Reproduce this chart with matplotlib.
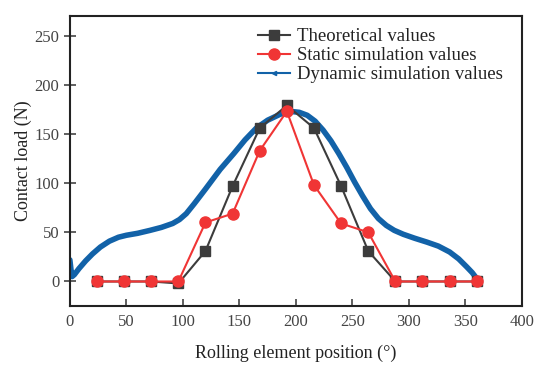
import matplotlib
matplotlib.use("Agg")
import matplotlib.pyplot as plt
from matplotlib.lines import Line2D

plt.rcParams['font.family'] = ['Liberation Serif', 'DejaVu Serif']

positions = [24, 48, 72, 96, 120, 144, 168, 192, 216, 240, 264, 288, 312, 336, 360]
theoretical = [0, 0, 0, -2, 31, 97, 156, 179, 156, 97, 31, 0, 0, 0, 0]
static_sim = [0, 0, 0, 0, 60, 69, 133, 173, 98, 59, 50, 0, 0, 0, 0]

dyn_x = [0, 1, 2, 4, 8, 14, 20, 27, 35, 43, 50, 60, 71, 81, 91, 97, 103, 110, 120,
         133, 145, 155, 165, 175, 186, 195, 203, 210, 217, 224, 231, 238, 245, 252,
         259, 266, 273, 280, 287, 295, 305, 316, 326, 336, 344, 351, 356, 360]
dyn_y = [22, 12, 5, 7, 13, 21, 28, 35, 41, 45, 47, 49, 52, 55, 59, 63, 69, 79, 94,
         114, 130, 144, 156, 164, 170, 173, 172, 169, 163, 154, 143, 130, 116, 101,
         87, 74, 64, 57, 52, 48, 44, 40, 36, 30, 23, 15, 9, 3]

fig = plt.figure(figsize=(5.5, 3.71), dpi=100)
ax = fig.add_axes([0.127, 0.175, 0.822, 0.782])

c_black = '#3c3c3c'
c_red = '#f03535'
c_blue = '#1262a8'

ax.plot(dyn_x, dyn_y, color=c_blue, lw=4, solid_capstyle='round', solid_joinstyle='round', zorder=2)
ax.plot(positions, theoretical, color=c_black, lw=1.5, marker='s', ms=7, zorder=3)
ax.plot(positions, static_sim, color=c_red, lw=1.5, marker='o', ms=8, zorder=4)

ax.set_xlim(0, 400)
ax.set_ylim(-25, 270)
ax.set_xticks([0, 50, 100, 150, 200, 250, 300, 350, 400])
ax.set_yticks([0, 50, 100, 150, 200, 250])
ax.tick_params(axis='x', direction='in', length=5, width=1.2, labelsize=12, colors='#444444', pad=6)
ax.tick_params(axis='y', direction='inout', length=9, width=1.2, labelsize=12, colors='#444444', pad=3)
for s in ax.spines.values():
    s.set_linewidth(1.5)
    s.set_color('#222222')

ax.set_xlabel('Rolling element position (°)', fontsize=13, color='#222222', labelpad=10)
ax.set_ylabel('Contact load (N)', fontsize=13, color='#222222', labelpad=2)

handles = [
    Line2D([], [], color=c_black, lw=1.5, marker='s', ms=7),
    Line2D([], [], color=c_red, lw=1.5, marker='o', ms=8),
    Line2D([], [], color=c_blue, lw=1.5, marker='<', ms=3),
]
labels = ['Theoretical values', 'Static simulation values', 'Dynamic simulation values']
ax.legend(handles, labels, loc='upper left', bbox_to_anchor=(0.395, 0.99), frameon=False,
          fontsize=13.5, handlelength=1.7, handletextpad=0.4, labelspacing=0.1, borderpad=0,
          labelcolor='#222222')

fig.savefig('out.png', dpi=100)
